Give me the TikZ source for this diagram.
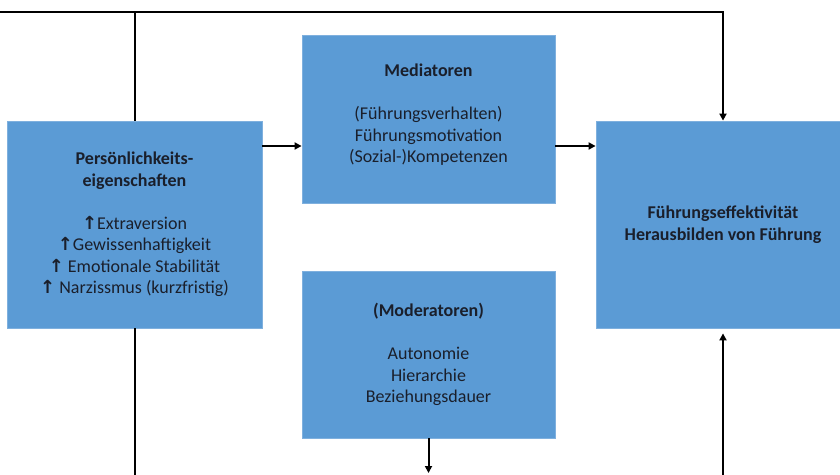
\documentclass[tikz,border=0pt]{standalone}
\usepackage{fontspec}
\setmainfont{Carlito}
\newfontfamily\arrfont{DejaVu Sans}
\usetikzlibrary{arrows.meta}
\definecolor{boxblue}{HTML}{5B9BD5}
\definecolor{boxedge}{HTML}{7FB0DE}
\definecolor{txt}{HTML}{1A1F2B}
\newcommand{\up}{{\arrfont\bfseries ↑}}
\begin{document}
\begin{tikzpicture}[x=1pt,y=-1pt,
  blockbox/.style={draw=boxedge,line width=0.8pt,fill=boxblue,text=txt,align=center,
    inner sep=0pt,font=\fontsize{18}{21.5}\selectfont},
  blocktext/.style={text=txt,align=center,inner sep=0pt,font=\fontsize{18}{21.5}\selectfont},
  conn/.style={line width=2pt,black},
  arr/.style={conn,-{Triangle[width=7pt,length=7pt]}}]
\useasboundingbox (0,0) rectangle (840,474);
\node[blockbox,minimum width=255,minimum height=207] (pers) at (134.5,224.5)
  {\textbf{Persönlichkeits-}\\\textbf{eigenschaften}\\[21.5pt]
   \up Extraversion\\ \up Gewissenhaftigkeit\\ \up\ Emotionale Stabilität\\ \up\ Narzissmus (kurzfristig)};
\node[blockbox,minimum width=253,minimum height=168] (med) at (428.5,119) {};
\node[blocktext] (medtext) at ([yshift=4pt]med.center)
  {\textbf{Mediatoren}\\[21.5pt](Führungsverhalten)\\Führungsmotivation\\(Sozial-)Kompetenzen};
\node[blockbox,minimum width=253,minimum height=167] (mod) at (428.5,354.5)
  {\textbf{(Moderatoren)}\\[21.5pt]Autonomie\\Hierarchie\\Beziehungsdauer};
\node[blockbox,minimum width=254,minimum height=207] (eff) at (723,224.5)
  {\textbf{Führungseffektivität}\\\textbf{Herausbilden von Führung}};
\coordinate (ya) at (0,146);
\coordinate (top) at (0,12);
\coordinate (bot) at (0,480);
\coordinate (tip) at (0,473);
\draw[arr] (pers.east |- ya) -- (med.west |- ya);
\draw[arr] (med.east |- ya) -- (eff.west |- ya);
\draw[arr] (pers.north) |- (top) -| (eff.north);
\draw[conn] (pers.south) -- (pers.south |- bot);
\draw[arr] (mod.south) -- (mod.south |- tip);
\draw[arr] (eff.south |- bot) -- ([yshift=-5pt]eff.south);
\end{tikzpicture}
\end{document}
